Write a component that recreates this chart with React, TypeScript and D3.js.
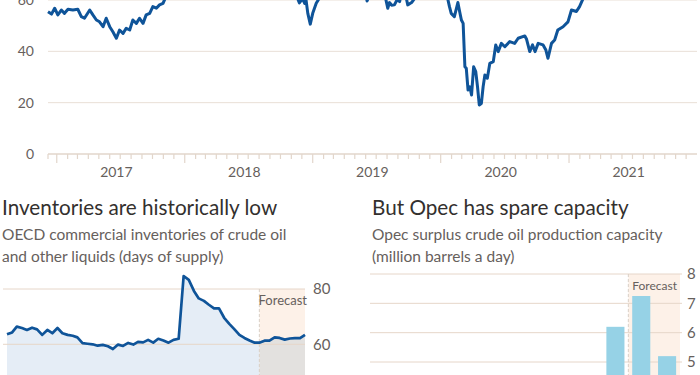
import React, { useEffect, useRef } from 'react';
import * as d3 from 'd3';

// Brent crude price, $ a barrel (the top is cropped at $60)
const brentDates = [
  '2016-12-07', '2016-12-17', '2016-12-26', '2017-01-04', '2017-01-14', '2017-01-23', '2017-02-02',
  '2017-02-16', '2017-03-02', '2017-03-12', '2017-03-21', '2017-04-05', '2017-04-14', '2017-04-24',
  '2017-05-03', '2017-05-13', '2017-05-22', '2017-06-01', '2017-06-10', '2017-06-20', '2017-06-29',
  '2017-07-09', '2017-07-18', '2017-07-28', '2017-08-06', '2017-08-16', '2017-08-25', '2017-09-04',
  '2017-09-13', '2017-09-23', '2017-10-02', '2017-10-12', '2017-10-21', '2017-10-31', '2017-11-09',
  '2017-11-24', '2017-12-15', '2018-01-12', '2018-02-09', '2018-03-09', '2018-04-13', '2018-05-17',
  '2018-06-15', '2018-07-13', '2018-08-15', '2018-09-25', '2018-10-03', '2018-10-26', '2018-11-13',
  '2018-11-20', '2018-11-24', '2018-12-03', '2018-12-09', '2018-12-13', '2018-12-18', '2018-12-25',
  '2019-01-01', '2019-01-11', '2019-01-21', '2019-02-15', '2019-03-20', '2019-04-25', '2019-05-20',
  '2019-06-05', '2019-06-20', '2019-07-10', '2019-07-25', '2019-08-03', '2019-08-08', '2019-08-14',
  '2019-08-22', '2019-08-30', '2019-09-06', '2019-09-16', '2019-09-29', '2019-10-10', '2019-10-18',
  '2019-11-15', '2019-12-20', '2020-01-07', '2020-01-21', '2020-01-26', '2020-01-31', '2020-02-09',
  '2020-02-19', '2020-02-24', '2020-02-29', '2020-03-05', '2020-03-10', '2020-03-14', '2020-03-19',
  '2020-03-24', '2020-03-29', '2020-04-04', '2020-04-10', '2020-04-15', '2020-04-20', '2020-04-26',
  '2020-05-01', '2020-05-06', '2020-05-13', '2020-05-20', '2020-05-30', '2020-06-06', '2020-06-13',
  '2020-06-22', '2020-07-02', '2020-07-16', '2020-07-30', '2020-08-09', '2020-08-28', '2020-09-02',
  '2020-09-11', '2020-09-19', '2020-09-26', '2020-10-05', '2020-10-19', '2020-10-27', '2020-11-02',
  '2020-11-12', '2020-11-21', '2020-11-30', '2020-12-15', '2020-12-29', '2021-01-08', '2021-01-22',
  '2021-01-31', '2021-02-10', '2021-02-25', '2021-03-10', '2021-04-01', '2021-05-05', '2021-06-15',
  '2021-07-06', '2021-08-20', '2021-09-15', '2021-10-05',
];
const brentValues = [
  55.4, 54.5, 56.8, 54.2, 56.1, 54.8, 56.4,
  56.1, 56.4, 53.5, 52.9, 56.1, 54.2, 52.2,
  51.5, 49.6, 52.9, 49.6, 47.6, 45.1, 48.3,
  47.0, 49.0, 48.3, 52.2, 50.9, 52.9, 50.9,
  54.2, 54.8, 57.4, 56.8, 58.1, 58.7, 61.5,
  63.5, 64.0, 69.5, 63.5, 65.5, 72.0, 79.5,
  73.5, 75.0, 71.5, 81.5, 86.0, 76.5, 65.5,
  60.2, 58.9, 60.5, 58.7, 60.0, 54.8, 50.6,
  54.8, 58.7, 61.0, 66.0, 68.0, 74.5, 71.0,
  59.6, 64.5, 67.0, 62.5, 56.8, 59.0, 58.0,
  58.1, 60.2, 59.4, 66.5, 58.1, 59.0, 60.5,
  63.0, 66.5, 69.0, 60.5, 57.4, 54.8, 53.5,
  59.0, 55.5, 52.2, 50.9, 34.0, 33.4, 24.9,
  26.2, 23.0, 34.0, 32.1, 26.2, 19.1, 19.7,
  26.2, 30.8, 29.5, 35.3, 36.0, 42.5, 39.9,
  43.1, 41.8, 43.8, 43.1, 45.1, 46.0, 44.7,
  39.9, 42.5, 39.9, 43.1, 42.5, 40.5, 37.3,
  43.1, 44.4, 48.3, 49.6, 51.5, 56.1, 55.5,
  57.4, 60.5, 65.0, 68.5, 63.5, 68.0, 73.5,
  76.5, 66.5, 74.0, 81.5,
];
const priceTicks = [0, 20, 40, 60];
const priceYears = [2017, 2018, 2019, 2020, 2021];

// OECD commercial inventories, days of supply, monthly from Jan 2017 to Dec 2021
const inventoryStart = '2017-01';
const inventoryValues = [
  63.6, 64.3, 66.4, 65.9, 65.2, 66.0, 65.4, 63.4, 65.2, 64.0, 65.9, 64.0,
  63.4, 63.1, 62.5, 60.4, 60.2, 60.0, 59.5, 59.8, 59.3, 58.3, 59.9, 59.4,
  60.5, 59.9, 60.9, 60.7, 61.6, 60.6, 62.0, 61.4, 60.6, 61.6, 62.0, 84.7,
  83.3, 79.3, 76.6, 75.7, 74.3, 73.0, 73.0, 69.6, 67.4, 65.5, 63.4, 62.3,
  61.4, 60.6, 60.6, 61.3, 61.3, 62.5, 62.3, 61.7, 62.1, 62.2, 62.2, 63.4,
];
const inventoryForecastFrom = '2021-03';
const inventoryTicks = [40, 60, 80];

// Opec surplus crude production capacity, million b/d
const spareYears = ['2011', '2012', '2013', '2014', '2015', '2016', '2017', '2018', '2019', '2020', '2021', '2022'];
const spareValues = [2.7, 2.1, 2.1, 2.1, 1.6, 1.5, 1.9, 1.6, 2.5, 6.2, 7.25, 5.2];
const spareForecastFrom = '2021';
const spareTicks = [0, 1, 2, 3, 4, 5, 6, 7, 8];

const font = 'Lato, "Noto Sans", sans-serif';
const ink = '#33302e';
const grey = '#66605c';
const grid = '#e9dfd6';
const blue = '#0f5499';
const H = 375;

const App = () => {
  const svgRef = useRef<SVGSVGElement>(null);

  useEffect(() => {
    const svg = d3.select(svgRef.current);
    svg.selectAll('*').remove();
    svg.attr('font-family', font);

    // ---------- top: Brent price ----------
    const parse = d3.timeParse('%Y-%m-%d');
    const brent = brentDates.map((d, i) => ({ date: parse(d) as Date, value: brentValues[i] }));
    const x = d3.scaleTime()
      .domain([parse('2016-12-07') as Date, parse('2022-01-01') as Date])
      .range([48, 697]);
    const y = d3.scaleLinear().domain([0, 60]).range([154, 0]);

    const top = svg.append('g');
    top.selectAll('.grid')
      .data(priceTicks.filter(t => t > 0))
      .enter().append('line')
      .attr('x1', x.range()[0]).attr('x2', x.range()[1])
      .attr('y1', d => y(d)).attr('y2', d => y(d))
      .attr('stroke', grid).attr('stroke-width', 1);
    top.selectAll('.ylab')
      .data(priceTicks)
      .enter().append('text')
      .attr('x', 34).attr('y', d => y(d)).attr('dy', '0.35em')
      .attr('text-anchor', 'end').attr('font-size', 14).attr('fill', grey)
      .text(d => d);

    const axis = top.append('g').attr('transform', `translate(0,${y(0)})`);
    axis.append('line')
      .attr('x1', x.range()[0]).attr('x2', x.range()[1])
      .attr('stroke', '#e2d6cb').attr('stroke-width', 1.5);
    const months = d3.timeMonth.range(d3.timeMonth.ceil(x.domain()[0]), x.domain()[1]);
    axis.selectAll('.tick')
      .data(months)
      .enter().append('line')
      .attr('x1', d => x(d)).attr('x2', d => x(d))
      .attr('y1', 0).attr('y2', d => (d.getMonth() === 0 ? 9 : 5))
      .attr('stroke', '#e2d6cb').attr('stroke-width', 1.2);
    axis.append('line')
      .attr('x1', x.range()[0]).attr('x2', x.range()[0])
      .attr('y1', 0).attr('y2', 5)
      .attr('stroke', '#e2d6cb').attr('stroke-width', 1.2);
    axis.selectAll('.year')
      .data(priceYears)
      .enter().append('text')
      .attr('x', d => x(new Date(d, 5, 20))).attr('y', 23)
      .attr('text-anchor', 'middle').attr('font-size', 14).attr('fill', grey)
      .text(d => d);

    top.append('path')
      .datum(brent)
      .attr('d', d3.line<{ date: Date; value: number }>().x(d => x(d.date)).y(d => y(d.value)))
      .attr('fill', 'none').attr('stroke', blue).attr('stroke-width', 3)
      .attr('stroke-linejoin', 'round');

    // ---------- headings ----------
    const heading = (g: any, tx: number, title: string, sub: string[]) => {
      g.append('text').attr('x', tx).attr('y', 215)
        .attr('font-size', 20.7).attr('fill', ink).text(title);
      sub.forEach((s, i) => {
        g.append('text').attr('x', tx).attr('y', 240 + i * 22)
          .attr('font-size', 15.5).attr('fill', grey).text(s);
      });
    };

    // ---------- bottom left: inventories ----------
    const left = svg.append('g');
    heading(left, 2, 'Inventories are historically low',
      ['OECD commercial inventories of crude oil', 'and other liquids (days of supply)']);
    const mParse = d3.timeParse('%Y-%m');
    const invStart = mParse(inventoryStart) as Date;
    const inv = inventoryValues.map((v, i) => ({ date: d3.timeMonth.offset(invStart, i), value: v }));
    const xi = d3.scaleTime().domain([inv[0].date, inv[inv.length - 1].date]).range([7, 305]);
    const yi = d3.scaleLinear().domain([60, 80]).range([344.3, 289]);
    const fx = xi(mParse(inventoryForecastFrom) as Date);
    const base = yi(inventoryTicks[0]);

    left.append('rect')
      .attr('x', fx).attr('y', yi(80)).attr('width', xi.range()[1] - fx).attr('height', base - yi(80))
      .attr('fill', '#fdf1e8');
    const defs = svg.append('defs');
    defs.append('clipPath').attr('id', 'inv-past').append('rect')
      .attr('x', 0).attr('y', 0).attr('width', fx).attr('height', H);
    defs.append('clipPath').attr('id', 'inv-fore').append('rect')
      .attr('x', fx).attr('y', 0).attr('width', 350 - fx).attr('height', H);
    const area = d3.area<{ date: Date; value: number }>()
      .x(d => xi(d.date)).y0(base).y1(d => yi(d.value));
    left.append('path').datum(inv).attr('d', area).attr('fill', '#e5edf6').attr('clip-path', 'url(#inv-past)');
    left.append('path').datum(inv).attr('d', area).attr('fill', '#e3e1df').attr('clip-path', 'url(#inv-fore)');

    left.selectAll('.grid')
      .data(inventoryTicks.slice(1))
      .enter().append('line')
      .attr('x1', 3).attr('x2', xi.range()[1])
      .attr('y1', d => yi(d)).attr('y2', d => yi(d))
      .attr('stroke', '#e6d6c9').attr('stroke-width', 1);
    left.selectAll('.ylab')
      .data(inventoryTicks.filter(t => yi(t) < H))
      .enter().append('text')
      .attr('x', 313).attr('y', d => yi(d)).attr('dy', '0.35em')
      .attr('font-size', 15).attr('fill', grey)
      .text(d => d);
    left.append('line')
      .attr('x1', fx).attr('x2', fx).attr('y1', yi(80)).attr('y2', base)
      .attr('stroke', '#d9cfc6').attr('stroke-dasharray', '3,2');
    left.append('text')
      .attr('x', xi.range()[1] + 2).attr('y', 305)
      .attr('text-anchor', 'end').attr('font-size', 13).attr('fill', grey)
      .text('Forecast');
    left.append('path')
      .datum(inv)
      .attr('d', d3.line<{ date: Date; value: number }>().x(d => xi(d.date)).y(d => yi(d.value)))
      .attr('fill', 'none').attr('stroke', blue).attr('stroke-width', 2.7)
      .attr('stroke-linejoin', 'round');

    // ---------- bottom right: Opec spare capacity ----------
    const right = svg.append('g');
    heading(right, 372, 'But Opec has spare capacity',
      ['Opec surplus crude oil production capacity', '(million barrels a day)']);
    const xb = d3.scaleBand().domain(spareYears).range([370, 680]).paddingInner(0.3).paddingOuter(0.15);
    const yb = d3.scaleLinear().domain([0, 8]).range([508.7, 274]);
    const prevYear = spareYears[spareYears.indexOf(spareForecastFrom) - 1];
    const bx = ((xb(prevYear) as number) + xb.bandwidth() + (xb(spareForecastFrom) as number)) / 2;

    right.append('rect')
      .attr('x', bx).attr('y', yb(8)).attr('width', xb.range()[1] - bx).attr('height', yb(0) - yb(8))
      .attr('fill', '#fdf1e8');
    right.selectAll('.grid')
      .data(spareTicks)
      .enter().append('line')
      .attr('x1', 370).attr('x2', 682)
      .attr('y1', d => yb(d)).attr('y2', d => yb(d))
      .attr('stroke', '#e6d6c9').attr('stroke-width', 1);
    right.selectAll('.ylab')
      .data(spareTicks.filter(t => yb(t) < H - 6))
      .enter().append('text')
      .attr('x', 687).attr('y', d => yb(d)).attr('dy', '0.35em')
      .attr('font-size', 15).attr('fill', grey)
      .text(d => d);
    right.append('line')
      .attr('x1', bx).attr('x2', bx).attr('y1', yb(8)).attr('y2', yb(0))
      .attr('stroke', '#d9cfc6').attr('stroke-dasharray', '3,2');
    right.append('text')
      .attr('x', xb.range()[1] - 3).attr('y', 290)
      .attr('text-anchor', 'end').attr('font-size', 12).attr('fill', grey)
      .text('Forecast');
    right.selectAll('.bar')
      .data(spareYears)
      .enter().append('rect')
      .attr('x', d => xb(d) as number)
      .attr('y', (d, i) => yb(spareValues[i]))
      .attr('width', xb.bandwidth())
      .attr('height', (d, i) => yb(0) - yb(spareValues[i]))
      .attr('fill', '#96d2e6');
  }, []);

  return (
    <svg ref={svgRef} width={700} height={H}
      style={{ position: 'absolute', left: 0, top: 0, background: '#fff' }} />
  );
};

export default App;
